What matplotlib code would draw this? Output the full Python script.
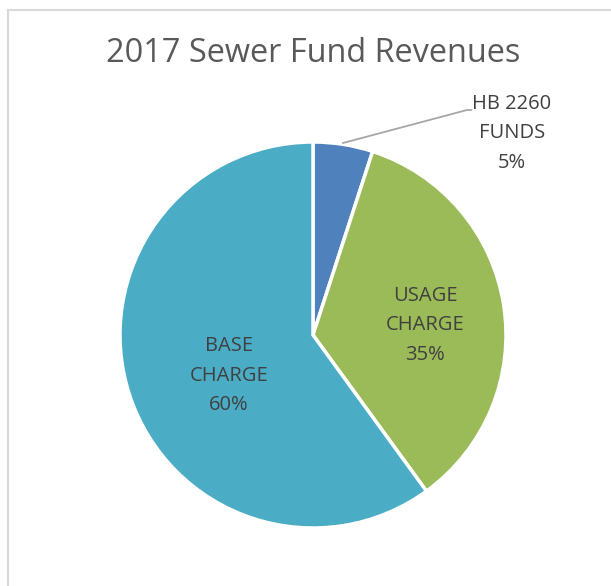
import matplotlib
matplotlib.use("Agg")
import matplotlib.pyplot as plt
from matplotlib.lines import Line2D

plt.rcParams['font.family'] = ['Open Sans', 'DejaVu Sans']

title = "2017 Sewer Fund Revenues"
categories = ["HB 2260\nFUNDS", "USAGE\nCHARGE", "BASE\nCHARGE"]
values = [5, 35, 60]
colors = ["#4F81BD", "#9BBB59", "#4BACC6"]

fig = plt.figure(figsize=(6.11, 5.86), dpi=100)
W, H = 611, 586

# frame
fig.add_artist(Line2D([8/W, 8/W], [0, 1 - 10/H], color="#D9D9D9", lw=1.5))
fig.add_artist(Line2D([8/W, 1], [1 - 10/H, 1 - 10/H], color="#D9D9D9", lw=1.5))

fig.text(313/W, 1 - 53/H, title, ha="center", va="center", fontsize=23.4, color="#595959")

cx, cy, r = 313, 335, 193
ax = fig.add_axes([(cx - r)/W, (H - cy - r)/H, 2*r/W, 2*r/H])
wedges, _ = ax.pie(values, colors=colors, startangle=90, counterclock=False,
                   radius=1.0, wedgeprops=dict(edgecolor="white", linewidth=2.5))
ax.set_xlim(-1, 1)
ax.set_ylim(-1, 1)
ax.set_aspect("auto")
ax.axis("off")

txtcol = "#404040"
# label positions (in pie units)
pos = [(1.03, 1.045), (0.58, 0.05), (-0.435, -0.21)]
for cat, v, (x, y) in zip(categories, values, pos):
    ax.text(x, y, f"{cat}\n{v}%", ha="center", va="center", fontsize=14.5,
            color=txtcol, linespacing=1.65, clip_on=False)

# leader line for small slice
ax.plot([(343 - cx)/r, (467 - cx)/r, (471 - cx)/r], [(cy - 143)/r, (cy - 110)/r, (cy - 110)/r],
        color="#A6A6A6", lw=1.3, clip_on=False)

fig.savefig("out.png", dpi=100)
